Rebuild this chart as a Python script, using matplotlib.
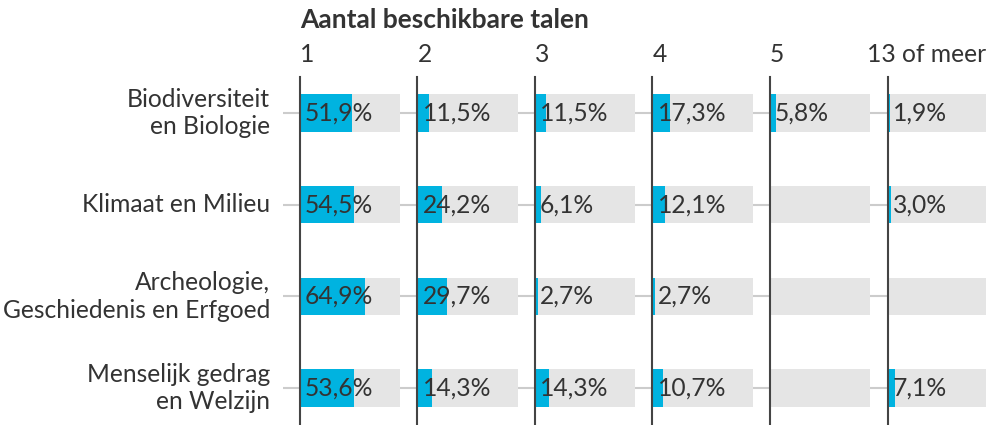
import matplotlib.pyplot as plt

plt.rcParams['font.family'] = ['Lato', 'DejaVu Sans']

# data
title = "Aantal beschikbare talen"
columns = ["1", "2", "3", "4", "5", "13 of meer"]
categories = ["Biodiversiteit\nen Biologie", "Klimaat en Milieu",
              "Archeologie,\nGeschiedenis en Erfgoed", "Menselijk gedrag\nen Welzijn"]
bio = [51.9, 11.5, 11.5, 17.3, 5.8, 1.9]
klimaat = [54.5, 24.2, 6.1, 12.1, None, 3.0]
archeo = [64.9, 29.7, 2.7, 2.7, None, None]
mens = [53.6, 14.3, 14.3, 10.7, None, 7.1]
values = [bio, klimaat, archeo, mens]

W, H = 987, 425
BLUE = "#00b3e0"
GREY = "#e5e5e5"
TXT = "#333333"
col_x = [300, 417.5, 535, 652.5, 770, 888]
top = 77
ylim = (3 + 37 / 92, -36 / 92)
fs = 17.7

fig = plt.figure(figsize=(W / 100, H / 100), dpi=100)

# background axis with row guide lines
bg = fig.add_axes([283 / W, 0, (888 - 283) / W, (H - top) / H])
bg.set_ylim(*ylim)
bg.set_xlim(0, 1)
bg.axis("off")
for i in range(len(categories)):
    bg.axhline(i, color="#cccccc", lw=1.5, zorder=0)

rows = list(range(len(categories)))
for j, col in enumerate(columns):
    ax = fig.add_axes([col_x[j] / W, 0, 100 / W, (H - top) / H])
    ax.set_facecolor("none")
    ax.set_xlim(0, 100)
    ax.set_ylim(*ylim)
    vals = [v[j] for v in values]
    ax.barh(rows, [100] * len(rows), height=0.41, color=GREY, zorder=1)
    ax.barh(rows, [v if v is not None else 0 for v in vals], height=0.41,
            color=BLUE, zorder=2)
    for i, v in enumerate(vals):
        if v is not None:
            ax.text(5, i, f"{v:.1f}%".replace(".", ","), va="center", ha="left",
                    fontsize=fs, color=TXT, zorder=3)
    for s in ["top", "right", "bottom"]:
        ax.spines[s].set_visible(False)
    ax.spines["left"].set_color("#444444")
    ax.spines["left"].set_linewidth(1.5)
    ax.spines["left"].set_zorder(4)
    ax.set_xticks([])
    ax.set_yticks([])
    if j == len(columns) - 1:
        fig.text(986 / W, 1 - 54 / H, col, ha="right", va="center",
                 fontsize=fs, color=TXT)
    else:
        fig.text(col_x[j] / W, 1 - 54 / H, col, ha="left", va="center",
                 fontsize=fs, color=TXT)

for i, cat in enumerate(categories):
    bg.text(-13 / (888 - 283), i, cat, ha="right", va="center", fontsize=fs,
            color=TXT, linespacing=1.25, transform=bg.get_yaxis_transform())

fig.text(300 / W, 1 - 20 / H, title, ha="left", va="center", fontsize=19,
         fontweight="bold", color=TXT)

fig.savefig("out.png", dpi=100)
